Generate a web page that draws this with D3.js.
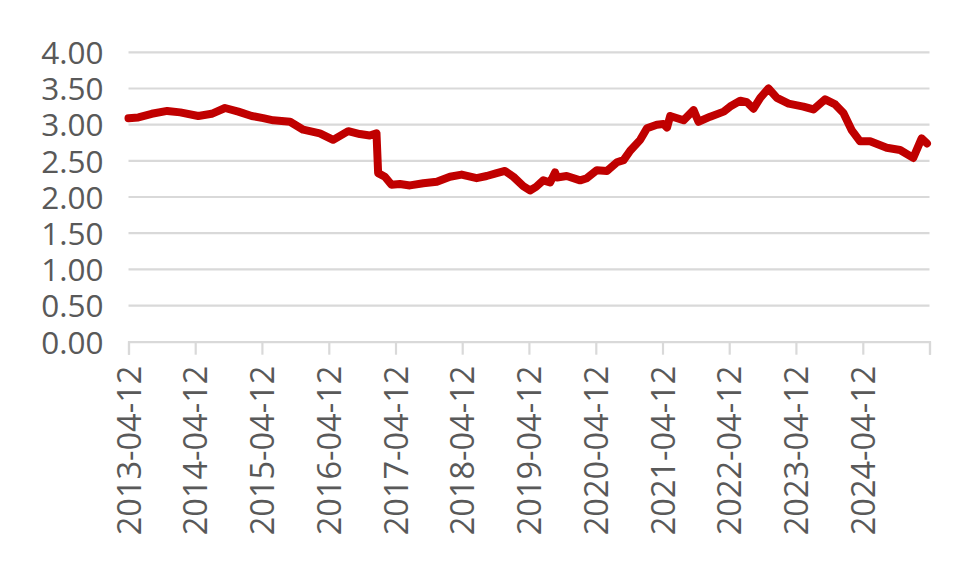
<!DOCTYPE html>
<html><head><meta charset="utf-8">
<script src="https://cdn.jsdelivr.net/npm/d3@7"></script>
<style>html,body{margin:0;padding:0;background:#fff;} svg{display:block;}</style>
</head><body>
<svg id="chart" width="980" height="585"></svg>
<script>
const dates = ["2013-04-12","2013-06-05","2013-08-17","2013-11-10","2014-01-20","2014-04-29","2014-07-11","2014-09-22","2014-12-04","2015-02-15","2015-04-19","2015-06-13","2015-09-13","2015-11-24","2016-02-23","2016-05-06","2016-07-27","2016-09-29","2016-11-22","2016-12-29","2017-01-07","2017-02-13","2017-03-21","2017-05-06","2017-06-30","2017-09-11","2017-11-24","2018-02-04","2018-04-09","2018-06-30","2018-08-24","2018-10-18","2018-12-02","2019-01-17","2019-03-12","2019-04-18","2019-05-21","2019-06-30","2019-08-06","2019-09-02","2019-09-13","2019-11-05","2020-01-17","2020-02-23","2020-04-18","2020-06-12","2020-08-06","2020-09-11","2020-10-17","2020-12-11","2021-01-17","2021-03-12","2021-04-17","2021-05-07","2021-05-24","2021-08-05","2021-09-29","2021-10-26","2021-12-29","2022-03-13","2022-04-17","2022-06-11","2022-07-18","2022-08-23","2022-09-29","2022-11-13","2022-12-29","2023-03-03","2023-05-23","2023-07-17","2023-09-19","2023-11-13","2023-12-28","2024-02-12","2024-03-28","2024-05-22","2024-08-21","2024-11-02","2025-01-13","2025-02-28","2025-03-29"];
const values = [3.09,3.10,3.15,3.19,3.17,3.12,3.15,3.23,3.18,3.12,3.09,3.06,3.04,2.93,2.88,2.79,2.91,2.87,2.85,2.88,2.33,2.28,2.17,2.18,2.16,2.19,2.21,2.28,2.31,2.26,2.29,2.33,2.36,2.28,2.15,2.09,2.14,2.23,2.20,2.34,2.27,2.29,2.23,2.26,2.37,2.36,2.48,2.51,2.64,2.79,2.95,3.00,3.01,2.96,3.12,3.06,3.20,3.04,3.11,3.18,3.25,3.33,3.31,3.22,3.37,3.50,3.37,3.29,3.25,3.21,3.35,3.28,3.16,2.92,2.77,2.77,2.68,2.65,2.54,2.81,2.74];
const yTicks = [0,0.5,1,1.5,2,2.5,3,3.5,4];
const xTickLabels = ["2013-04-12","2014-04-12","2015-04-12","2016-04-12","2017-04-12","2018-04-12","2019-04-12","2020-04-12","2021-04-12","2022-04-12","2023-04-12","2024-04-12"];
const xEnd = "2025-04-12";

const parse = d3.timeParse("%Y-%m-%d");
const data = dates.map((d,i)=>({date:parse(d), value:values[i]}));

const svg = d3.select("#chart");
const mLeft = 128.5, mRight = 929.5, mTop = 52.3, mBottom = 341.7;

const x = d3.scaleTime().domain([parse(xTickLabels[0]), parse(xEnd)]).range([mLeft, mRight]);
const y = d3.scaleLinear().domain([0,4]).range([mBottom, mTop]);

const font = "'Open Sans', 'Segoe UI', sans-serif";
const textColor = "#595959";

// gridlines
svg.append("g").selectAll("line").data(yTicks.filter(v=>v>0)).join("line")
  .attr("x1", mLeft).attr("x2", mRight)
  .attr("y1", d=>y(d)).attr("y2", d=>y(d))
  .attr("stroke", "#d9d9d9").attr("stroke-width", 2.2);

// y axis labels
const yAxis = d3.axisLeft(y).tickValues(yTicks).tickFormat(d3.format(".2f")).tickSize(0).tickPadding(0);
const gy = svg.append("g").attr("transform", `translate(${mLeft-25},0)`).call(yAxis);
gy.select(".domain").remove();
gy.selectAll("text").attr("font-family", font).attr("font-size", 31.5).attr("fill", textColor).attr("dy", "0.36em");

// x axis
const tickDates = xTickLabels.map(parse).concat([parse(xEnd)]);
const xAxis = d3.axisBottom(x).tickValues(tickDates).tickSize(13).tickFormat(d=>{
  const s = d3.timeFormat("%Y-%m-%d")(d); return xTickLabels.includes(s) ? s : "";
});
const gx = svg.append("g").attr("transform", `translate(0,${mBottom})`).call(xAxis);
gx.select(".domain").attr("stroke", "#d9d9d9").attr("stroke-width", 2.2);
gx.selectAll(".tick line").attr("stroke", "#d9d9d9").attr("stroke-width", 2.2);
gx.selectAll("text")
  .attr("font-family", font).attr("font-size", 32.5).attr("fill", textColor)
  .attr("text-anchor", "end")
  .attr("transform", "rotate(-90)")
  .attr("x", -24).attr("y", 0).attr("dy", "0.36em");

// line
const line = d3.line().x(d=>x(d.date)).y(d=>y(d.value));
svg.append("path").datum(data)
  .attr("d", line)
  .attr("fill", "none")
  .attr("stroke", "#c00000")
  .attr("stroke-width", 8)
  .attr("stroke-linejoin", "round")
  .attr("stroke-linecap", "round");
</script>
</body></html>
